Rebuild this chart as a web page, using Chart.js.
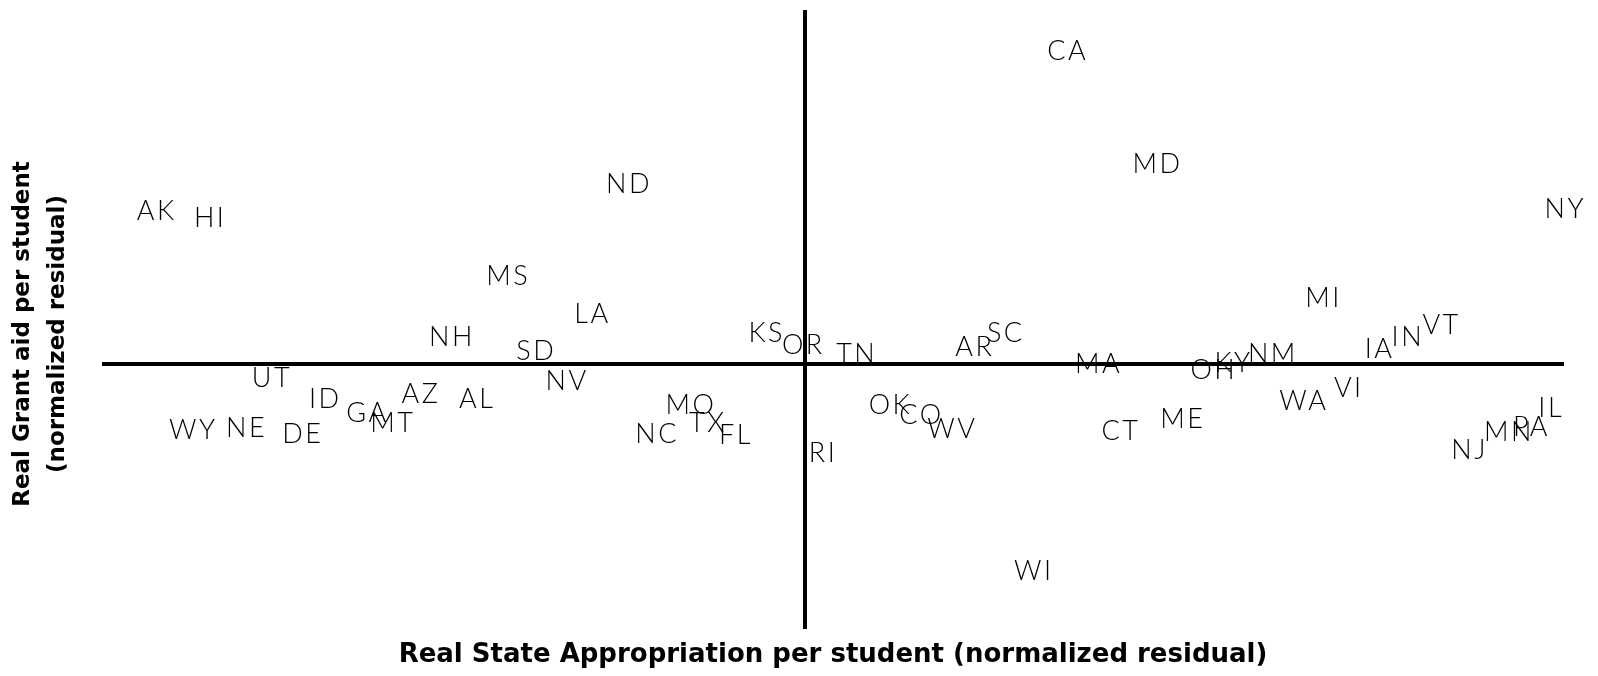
<!DOCTYPE html>
<html>
<head>
<meta charset="utf-8">
<script src="https://cdn.jsdelivr.net/npm/chart.js@4/dist/chart.umd.min.js"></script>
<style>
  html, body { margin: 0; padding: 0; background: #fff; }
</style>
</head>
<body>
<canvas id="residualChart" width="1598" height="676"></canvas>
<script>
// state codes, one label per point
const states = ['AK', 'HI', 'ND', 'MS', 'LA', 'NH', 'SD', 'UT', 'ID', 'GA',
                'AZ', 'AL', 'MT', 'WY', 'NE', 'DE', 'NV', 'KS', 'OR', 'TN',
                'MO', 'NC', 'TX', 'FL', 'RI', 'OK', 'CO', 'WV', 'AR', 'SC',
                'CA', 'MD', 'WI', 'MA', 'CT', 'ME', 'OH', 'KY', 'NM', 'MI',
                'WA', 'VI', 'IA', 'IN', 'VT', 'NY', 'IL', 'NJ', 'MN', 'PA'];

// real state appropriation per student (normalized residual)
const appropriation = [-2.31, -2.12, -0.63, -1.06, -0.76, -1.26, -0.96, -1.90, -1.71, -1.56,
                       -1.37, -1.17, -1.47, -2.18, -1.99, -1.79, -0.85, -0.14, -0.01, 0.18,
                       -0.41, -0.53, -0.35, -0.25, 0.06, 0.30, 0.41, 0.52, 0.60, 0.71,
                       0.93, 1.25, 0.81, 1.04, 1.12, 1.34, 1.45, 1.52, 1.66, 1.84,
                       1.77, 1.93, 2.04, 2.14, 2.26, 2.70, 2.65, 2.36, 2.50, 2.58];

// real grant aid per student (normalized residual)
const grantAid = [1.72, 1.64, 2.03, 0.99, 0.56, 0.30, 0.14, -0.16, -0.40, -0.56,
                  -0.35, -0.40, -0.67, -0.75, -0.73, -0.80, -0.20, 0.34, 0.21, 0.11,
                  -0.47, -0.80, -0.67, -0.81, -1.01, -0.47, -0.58, -0.74, 0.19, 0.34,
                  3.53, 2.26, -2.35, -0.01, -0.76, -0.63, -0.08, 0.01, 0.11, 0.74,
                  -0.42, -0.28, 0.16, 0.30, 0.43, 1.75, -0.50, -0.98, -0.78, -0.72];

const xTitle = 'Real State Appropriation per student (normalized residual)';
const yTitle = ['Real Grant aid per student', '(normalized residual)'];

const labelFont = '300 27px Lato, "Open Sans", sans-serif';
const labelSpacing = 2.5;
const titleFamily = '"DejaVu Sans", sans-serif';

// only the zero lines are drawn, as thick axes
const zeroLine = (ctx) => ctx.tick && ctx.tick.value === 0 ? '#000' : 'rgba(0,0,0,0)';

// writes the state code centred on each point
const stateLabels = {
    id: 'stateLabels',
    afterDatasetsDraw(chart) {
        const ctx = chart.ctx;
        const meta = chart.getDatasetMeta(0);
        ctx.save();
        ctx.font = labelFont;
        ctx.letterSpacing = labelSpacing + 'px';
        ctx.fillStyle = '#000';
        ctx.textAlign = 'center';
        ctx.textBaseline = 'middle';
        meta.data.forEach((pt, i) => {
            ctx.fillText(states[i], pt.x + labelSpacing / 2, pt.y);
        });
        ctx.restore();
    }
};

// y title sits a bit below the middle of the axis, so draw it by hand
const yAxisTitle = {
    id: 'yAxisTitle',
    afterDraw(chart) {
        const ctx = chart.ctx;
        ctx.save();
        ctx.translate(23.5, 334);
        ctx.rotate(-Math.PI / 2);
        ctx.font = 'bold 23px ' + titleFamily;
        ctx.fillStyle = '#000';
        ctx.textAlign = 'center';
        ctx.textBaseline = 'middle';
        yTitle.forEach((line, i) => ctx.fillText(line, 0, i * 35));
        ctx.restore();
    }
};

const ctx = document.getElementById('residualChart').getContext('2d');
new Chart(ctx, {
    type: 'scatter',
    data: {
        labels: states,
        datasets: [{
            data: appropriation.map((x, i) => ({ x: x, y: grantAid[i] })),
            pointRadius: 0,
            pointHoverRadius: 0
        }]
    },
    options: {
        responsive: false,
        animation: false,
        layout: { padding: { top: 10, right: 34 } },
        plugins: {
            legend: { display: false },
            tooltip: { enabled: false }
        },
        scales: {
            x: {
                min: -2.5,
                max: 2.7,
                ticks: { display: false, stepSize: 0.5 },
                grid: { color: zeroLine, lineWidth: 4, drawTicks: false },
                border: { display: false },
                title: {
                    display: true,
                    text: xTitle,
                    color: '#000',
                    font: { family: titleFamily, size: 26, weight: 'bold' },
                    padding: { top: 0, bottom: 5 }
                },
                afterFit(scale) { scale.height = 47; }
            },
            y: {
                min: -3,
                max: 4,
                ticks: { display: false, stepSize: 1 },
                grid: { color: zeroLine, lineWidth: 4, drawTicks: false },
                border: { display: false },
                afterFit(scale) { scale.width = 102; }
            }
        }
    },
    plugins: [stateLabels, yAxisTitle]
});
</script>
</body>
</html>
